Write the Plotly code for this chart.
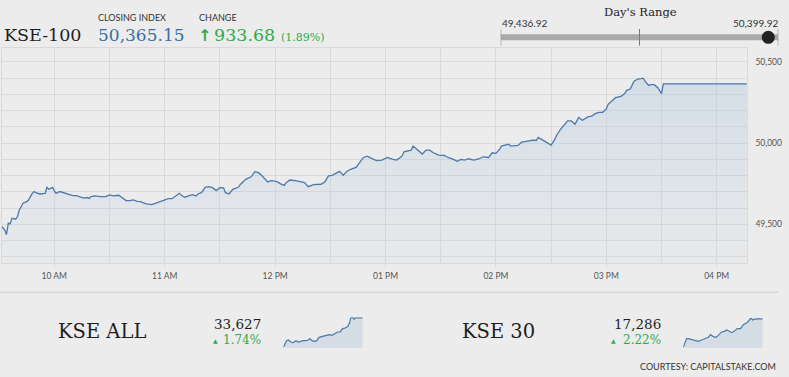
import plotly.graph_objects as go
import pandas as pd

# ---------------- data ----------------
index_name = "KSE-100"
closing_index = 50365.15
change = 933.68
change_pct = 1.89
day_low = 49436.92
day_high = 50399.92

# minutes after 09:30 and index values (main intraday chart)
minutes = [1.4, 3, 4, 5, 6, 7, 9, 10, 11, 13, 15, 16, 18, 19, 20, 22, 25, 26, 27, 29,
           30, 31, 33, 35, 37, 39, 40, 42, 44, 46, 48, 49, 50, 52, 55, 58, 60, 62, 65, 67,
           69, 71, 73, 75, 77, 78, 80, 83, 85, 88, 90, 92, 94, 96, 98, 99, 101, 103, 105, 107,
           108, 110, 112, 114, 116, 118, 120, 122, 123, 125, 127, 130, 131, 134, 137, 139, 141, 143, 145, 146,
           148, 151, 153, 155, 156, 158, 161, 164, 166, 168, 171, 175, 177, 179, 181, 183, 185, 186, 187, 189,
           191, 194, 195, 198, 200, 203, 205, 208, 211, 214, 216, 218, 219, 220, 222, 224, 225, 227, 229, 230,
           232, 234, 236, 239, 242, 244, 247, 249, 251, 253, 255, 258, 261, 263, 266, 268, 270, 272, 273, 275,
           277, 278, 280, 282, 284, 286, 288, 290, 292, 293, 295, 297, 299, 300, 302, 303, 305, 307, 309, 311,
           313, 315, 317, 320, 322, 324, 326, 328, 330, 331, 333, 335, 338, 340, 341, 343, 345, 347, 349, 350,
           351, 353, 354, 356, 358, 360, 361, 406.5]
values = [49487, 49466, 49437, 49507, 49503, 49538, 49532, 49548, 49589, 49630, 49640, 49650, 49691, 49702, 49695, 49687, 49691, 49728, 49716, 49728,
          49708, 49691, 49702, 49695, 49687, 49681, 49677, 49677, 49667, 49661, 49665, 49659, 49671, 49675, 49671, 49671, 49681, 49675, 49679, 49661,
          49646, 49646, 49650, 49642, 49640, 49634, 49626, 49622, 49630, 49638, 49650, 49658, 49658, 49675, 49691, 49679, 49667, 49675, 49683, 49675,
          49687, 49695, 49728, 49732, 49726, 49708, 49726, 49724, 49695, 49687, 49716, 49728, 49744, 49777, 49793, 49824, 49818, 49798, 49777, 49761,
          49769, 49763, 49749, 49740, 49757, 49773, 49769, 49763, 49757, 49732, 49744, 49747, 49761, 49798, 49802, 49814, 49826, 49814, 49802, 49826,
          49839, 49851, 49865, 49912, 49920, 49906, 49892, 49896, 49912, 49900, 49896, 49912, 49920, 49947, 49953, 49957, 49982, 49961, 49941, 49933,
          49957, 49957, 49941, 49926, 49924, 49912, 49900, 49888, 49900, 49896, 49904, 49896, 49904, 49916, 49912, 49941, 49937, 49961, 49982, 49988,
          49994, 49982, 49982, 49986, 50006, 50008, 50014, 50018, 50018, 50035, 50023, 50006, 49998, 49988, 50023, 50049, 50084, 50108, 50137, 50137,
          50117, 50158, 50141, 50162, 50166, 50182, 50190, 50190, 50211, 50239, 50260, 50280, 50288, 50305, 50325, 50333, 50380, 50395, 50397, 50399.92,
          50383, 50356, 50360, 50360, 50342, 50305, 50365.15, 50365.15]

# KSE ALL sparkline
all_name = "KSE ALL"
all_close = 33627
all_pct = 1.74
all_minutes = [0, 9, 17, 26, 38, 51, 65, 77, 89, 102, 116, 128, 136, 147, 157, 171, 183, 196, 210, 222,
               235, 249, 264, 278, 290, 304, 316, 329, 338, 345, 355, 362, 368, 406]
all_values = [32967, 33057, 33117, 33132, 33087, 33072, 33117, 33087, 33102, 33117, 33117, 33132, 33162, 33117, 33102, 33117, 33192, 33207, 33222, 33252,
              33252, 33237, 33267, 33312, 33312, 33387, 33402, 33432, 33507, 33627, 33642, 33597, 33627, 33627]

# KSE 30 sparkline
k30_name = "KSE 30"
k30_close = 17286
k30_pct = 2.22
k30_minutes = [0, 9, 17, 26, 43, 60, 77, 94, 106, 119, 128, 140, 154, 167, 179, 196, 210, 222, 235, 249,
               264, 276, 293, 307, 321, 333, 345, 355, 362, 375, 406]
k30_values = [16818, 16912, 16962, 16962, 16951, 16940, 16918, 16940, 16962, 16972, 16984, 17028, 16994, 16984, 17016, 17072, 17082, 17104, 17082, 17060,
              17094, 17126, 17126, 17192, 17214, 17248, 17302, 17270, 17280, 17286, 17286]

courtesy = "COURTESY: CAPITALSTAKE.COM"

# ---------------- layout helpers ----------------
W, H = 789, 377
BG = "#ececec"
GRID = "#dadada"
LINE = "#4a79aa"
GREEN = "#2cac4c"
BLUE = "#3a6ea5"
SERIF = "DejaVu Serif"
SANS = "Lato"

def px(x):
    return x / W

def py(y):
    return (H - y) / H

base = pd.Timestamp("2021-06-01 09:30:00")
hour0 = pd.Timestamp("2021-06-01 10:00:00")
times = [base + pd.Timedelta(minutes=m) for m in minutes]
all_times = [base + pd.Timedelta(minutes=m) for m in all_minutes]
k30_times = [base + pd.Timedelta(minutes=m) for m in k30_minutes]

fig = go.Figure()

y_min, y_max = 49260, 50588

fig.add_trace(go.Scatter(
    x=times, y=values, mode="lines",
    line=dict(color=LINE, width=1.3),
    fill="tozeroy",
    fillgradient=dict(type="vertical",
                      colorscale=[[0, "rgba(170,195,222,0.06)"], [1, "rgba(170,195,222,0.36)"]],
                      start=y_min, stop=max(values)),
    hoverinfo="skip", xaxis="x", yaxis="y"))

for t, v, xa, ya in [(all_times, all_values, "x2", "y2"), (k30_times, k30_values, "x3", "y3")]:
    fig.add_trace(go.Scatter(
        x=t, y=v, mode="lines", line=dict(color=LINE, width=1.2),
        fill="tozeroy", fillcolor="rgba(185,202,222,0.45)",
        hoverinfo="skip", xaxis=xa, yaxis=ya))

# day's range bar
mid = (day_low + day_high) / 2
fig.add_trace(go.Scatter(x=[day_low, day_high], y=[0, 0], mode="lines",
                         line=dict(color="#a9a9a9", width=6), xaxis="x4", yaxis="y4", hoverinfo="skip"))
for tv in [day_low, mid, day_high]:
    fig.add_trace(go.Scatter(x=[tv, tv], y=[-1, 1], mode="lines",
                             line=dict(color="#7a7a7a", width=1), xaxis="x4", yaxis="y4", hoverinfo="skip"))
fig.add_trace(go.Scatter(x=[closing_index], y=[0], mode="markers",
                         marker=dict(color="#222222", size=13), xaxis="x4", yaxis="y4", hoverinfo="skip"))

hidden = dict(visible=False, showgrid=False, zeroline=False, fixedrange=True)

fig.update_layout(
    width=W, height=H,
    margin=dict(l=0, r=0, t=0, b=0),
    paper_bgcolor=BG, plot_bgcolor=BG,
    showlegend=False,
    hovermode=False,
    xaxis=dict(
        domain=[px(1.5), px(746.7)],
        type="date",
        range=[base + pd.Timedelta(minutes=1.3), base + pd.Timedelta(minutes=406.3)],
        dtick=3600000, tick0=hour0,
        tickformat="%I %p",
        ticks="outside", ticklen=4, tickcolor=GRID,
        showgrid=True, gridcolor=GRID, gridwidth=1,
        minor=dict(dtick=1800000, tick0=hour0, showgrid=True, gridcolor=GRID, ticks=""),
        showline=True, linecolor=GRID, mirror=True,
        tickfont=dict(family=SANS, size=8.5, color="#555555"),
        zeroline=False, fixedrange=True,
    ),
    yaxis=dict(
        domain=[py(263.3), py(47.7)],
        range=[y_min, y_max],
        side="right",
        dtick=500, tick0=0,
        tickformat=",d",
        showgrid=True, gridcolor=GRID,
        minor=dict(dtick=100, showgrid=True, gridcolor=GRID),
        showline=True, linecolor=GRID, mirror=True,
        ticks="", ticklabelstandoff=6,
        tickfont=dict(family=SANS, size=8.5, color="#555555"),
        zeroline=False, fixedrange=True,
    ),
    xaxis2=dict(domain=[px(283.3), px(362.7)], range=[all_times[0], all_times[-1]], type="date", **hidden),
    yaxis2=dict(domain=[py(347.7), py(317.3)], range=[min(all_values) - 8, max(all_values)], anchor="x2", **hidden),
    xaxis3=dict(domain=[px(683.3), px(762.7)], range=[k30_times[0], k30_times[-1]], type="date", **hidden),
    yaxis3=dict(domain=[py(347.7), py(318)], range=[min(k30_values) - 6, max(k30_values)], anchor="x3", **hidden),
    xaxis4=dict(domain=[px(500.7), px(778.3)], range=[day_low, day_high], **hidden),
    yaxis4=dict(domain=[py(45.7), py(29)], range=[-1, 1], anchor="x4", **hidden),
)

# separator line
fig.add_shape(type="line", xref="paper", yref="paper", x0=0, x1=px(779), y0=py(292.3), y1=py(292.3),
              line=dict(color="#cdcdcd", width=1))

def ann(text, x, y, size, color="#1e1e1e", family=SERIF, xanchor="left", **kw):
    fig.add_annotation(text=text, x=px(x), y=py(y), xref="paper", yref="paper",
                       xanchor=xanchor, yanchor="middle", showarrow=False,
                       font=dict(family=family, size=size, color=color), **kw)

# header
ann(index_name, 2, 35.5, 17.5)
ann("CLOSING INDEX", 95.5, 17.5, 9, color="#333333", family=SANS)
ann(f"{closing_index:,.2f}", 96, 35.5, 17, color=BLUE)
ann("CHANGE", 196.5, 17.5, 9, color="#333333", family=SANS)
ann("<b>↑</b>", 195.5, 35.5, 16, color=GREEN, family="DejaVu Sans")
ann(f"{change:,.2f}", 212, 35.5, 17.5, color=GREEN)
ann(f"({change_pct:.2f}%)", 279, 37, 11, color=GREEN)

# day's range labels
ann("Day's Range", 640, 12.5, 11.5, color="#222222", xanchor="center")
ann(f"{day_low:,.2f}", 500, 22.5, 10, color="#333333", family=SANS)
ann(f"{day_high:,.2f}", 779.5, 22.5, 10, color="#333333", family=SANS, xanchor="right")

# bottom panel
ann(all_name, 56, 331, 19.5)
ann(f"{all_close:,}", 262.5, 324, 13.5, xanchor="right")
ann("▲", 215.5, 340, 6, color=GREEN, family="DejaVu Sans", xanchor="center")
ann(f"{all_pct:.2f}%", 262.5, 340, 12, color=GREEN, xanchor="right")

ann(k30_name, 460, 331, 19.5)
ann(f"{k30_close:,}", 662.5, 324, 13.5, xanchor="right")
ann("▲", 613.5, 340, 6, color=GREEN, family="DejaVu Sans", xanchor="center")
ann(f"{k30_pct:.2f}%", 662.5, 340, 12, color=GREEN, xanchor="right")

ann(courtesy, 778, 366, 9, color="#333333", family=SANS, xanchor="right")

fig.write_html("out.html", config={"displayModeBar": False, "staticPlot": True},
               post_script="document.body.style.margin='0px';")
